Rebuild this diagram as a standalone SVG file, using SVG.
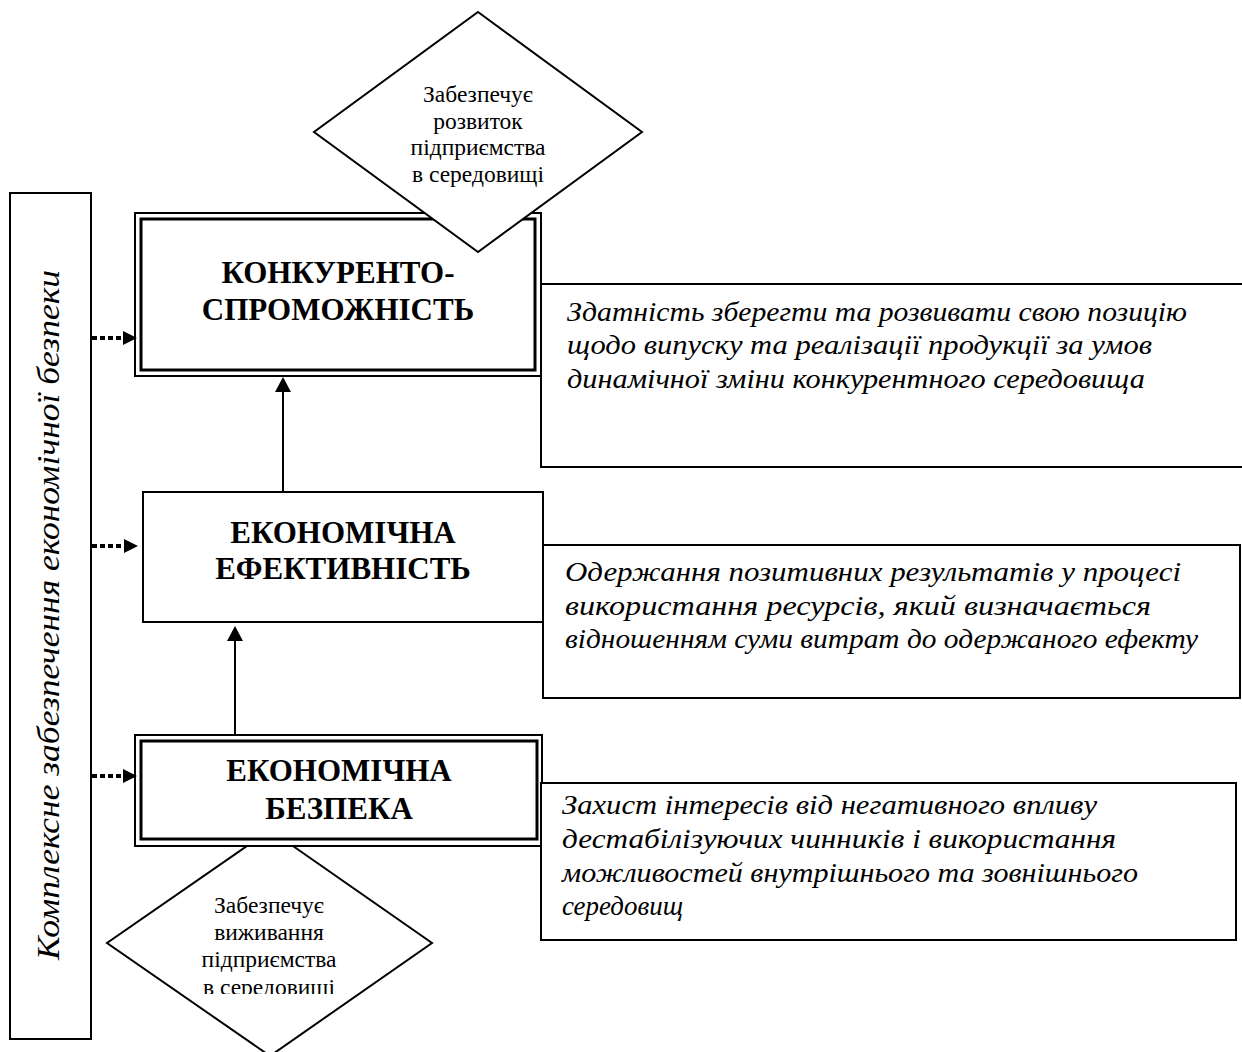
<svg xmlns="http://www.w3.org/2000/svg" width="1242" height="1052" viewBox="0 0 1242 1052">
<style>
.box{fill:#fff;stroke:#000;stroke-width:2}
.outer{fill:#fff;stroke:#000;stroke-width:2}
.inner{fill:none;stroke:#000;stroke-width:3}
.title{font-family:"Liberation Serif",serif;font-weight:bold;font-size:31px;text-anchor:middle;fill:#000}
.dtext{font-family:"Liberation Serif",serif;font-size:23.5px;text-anchor:middle;fill:#000}
.desc{font-family:"Liberation Serif",serif;font-style:italic;font-size:27px;fill:#000}
.vlabel{font-family:"Liberation Serif",serif;font-style:italic;font-size:31px;text-anchor:middle;fill:#000}
.solid{stroke:#000;stroke-width:2;fill:none}
.dotted{stroke:#000;stroke-width:4;stroke-dasharray:5 3;fill:none}
</style>
<defs>
<marker id="arr" markerUnits="userSpaceOnUse" markerWidth="15" markerHeight="16" viewBox="0 0 15 16" refX="0" refY="8" orient="auto"><path d="M0,0 L15,8 L0,16 z" fill="#000"/></marker>
<marker id="arrd" markerUnits="userSpaceOnUse" markerWidth="14" markerHeight="14" viewBox="0 0 14 14" refX="0" refY="7" orient="auto"><path d="M0,0 L14,7 L0,14 z" fill="#000"/></marker>
<clipPath id="clipBottom"><rect x="0" y="0" width="1242" height="994"/></clipPath>
</defs>

<g id="label-box">
<rect class="box" x="10" y="193" width="81" height="846"/>
<text class="vlabel" transform="translate(59,615) rotate(-90)" textLength="690" lengthAdjust="spacingAndGlyphs">Комплексне забезпечення економічної безпеки</text>
</g>

<g id="node-konkurento">
<rect class="outer" x="135" y="213" width="406" height="163"/>
<rect class="inner" x="141" y="219" width="394" height="151"/>
<text class="title" x="338" y="283">КОНКУРЕНТО-</text>
<text class="title" x="338" y="320">СПРОМОЖНІСТЬ</text>
</g>

<g id="diamond-top">
<polygon class="box" points="478,12 642,132 478,252 314,132"/>
<text class="dtext" x="478" y="102">Забезпечує</text>
<text class="dtext" x="478" y="128.5">розвиток</text>
<text class="dtext" x="478" y="155">підприємства</text>
<text class="dtext" x="478" y="182">в середовищі</text>
</g>

<g id="desc-konkurento">
<rect class="box" x="541" y="284" width="712" height="183"/>
<text class="desc" x="567" y="321" textLength="620" lengthAdjust="spacingAndGlyphs">Здатність зберегти та розвивати свою позицію</text>
<text class="desc" x="567" y="354" textLength="585" lengthAdjust="spacingAndGlyphs">щодо випуску та реалізації продукції за умов</text>
<text class="desc" x="567" y="388" textLength="578" lengthAdjust="spacingAndGlyphs">динамічної зміни конкурентного середовища</text>
</g>

<g id="node-efekt">
<rect class="box" x="143" y="492" width="400" height="130"/>
<text class="title" x="343" y="543">ЕКОНОМІЧНА</text>
<text class="title" x="343" y="579">ЕФЕКТИВНІСТЬ</text>
</g>

<g id="desc-efekt">
<rect class="box" x="543" y="545" width="697" height="153"/>
<text class="desc" x="565" y="581" textLength="616" lengthAdjust="spacingAndGlyphs">Одержання позитивних результатів у процесі</text>
<text class="desc" x="565" y="615" textLength="586" lengthAdjust="spacingAndGlyphs">використання ресурсів, який визначається</text>
<text class="desc" x="565" y="648" textLength="633" lengthAdjust="spacingAndGlyphs">відношенням суми витрат до одержаного ефекту</text>
</g>

<g id="diamond-bottom">
<polygon class="box" points="270,830 432,943 270,1056 107,943"/>
<g clip-path="url(#clipBottom)">
<text class="dtext" x="269" y="913">Забезпечує</text>
<text class="dtext" x="269" y="940">виживання</text>
<text class="dtext" x="269" y="967">підприємства</text>
<text class="dtext" x="269" y="995">в середовищі</text>
</g>
</g>

<g id="node-bezpeka">
<rect class="outer" x="135" y="735" width="407" height="111"/>
<rect class="inner" x="141" y="741" width="396" height="98"/>
<text class="title" x="339" y="781">ЕКОНОМІЧНА</text>
<text class="title" x="339" y="819">БЕЗПЕКА</text>
</g>

<g id="desc-bezpeka">
<rect class="box" x="541" y="783" width="695" height="157"/>
<text class="desc" x="562" y="814" textLength="535" lengthAdjust="spacingAndGlyphs">Захист інтересів від негативного впливу</text>
<text class="desc" x="562" y="848" textLength="554" lengthAdjust="spacingAndGlyphs">дестабілізуючих чинників і використання</text>
<text class="desc" x="562" y="882" textLength="576" lengthAdjust="spacingAndGlyphs">можливостей  внутрішнього та зовнішнього</text>
<text class="desc" x="562" y="915" textLength="121" lengthAdjust="spacingAndGlyphs">середовищ</text>
</g>

<g id="connectors">
<path class="solid" d="M283,491 V392" marker-end="url(#arr)"/>
<path class="solid" d="M235,735 V641" marker-end="url(#arr)"/>
<path class="dotted" d="M92,338 H123" marker-end="url(#arrd)"/>
<path class="dotted" d="M92,546 H124" marker-end="url(#arrd)"/>
<path class="dotted" d="M92,776 H123" marker-end="url(#arrd)"/>
</g>
</svg>
